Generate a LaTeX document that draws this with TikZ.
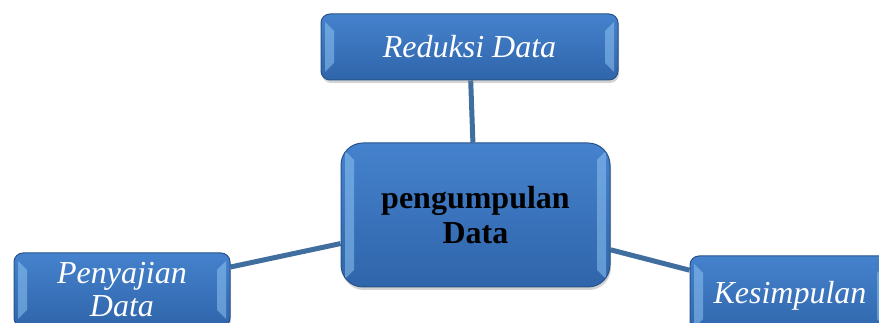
\documentclass[tikz,border=0pt]{standalone}
\usepackage{fontspec}
\setmainfont{Liberation Serif}
\usetikzlibrary{shadows,backgrounds}

\definecolor{boxtop}{HTML}{4582CD}
\definecolor{boxbot}{HTML}{2F65AA}
\definecolor{boxedge}{HTML}{27538A}
\definecolor{boxlight}{HTML}{8EC3F2}
\definecolor{linkblue}{HTML}{3F6E9F}

\begin{document}
\begin{tikzpicture}[x=1pt,y=1pt,
    box/.style={draw=boxedge, line width=1pt, rounded corners=9pt,
        top color=boxtop, bottom color=boxbot, text=white,
        font=\fontsize{32}{33}\selectfont\itshape, align=center,
        inner sep=0pt, drop shadow={opacity=.35,shadow xshift=1pt,
        shadow yshift=-3pt},
        path picture={
            \fill[boxlight,opacity=.55,sharp corners]
                ([xshift=4pt,yshift=-8pt]path picture bounding box.north west)
                -- ([xshift=13pt,yshift=-17pt]path picture bounding box.north west)
                -- ([xshift=13pt,yshift=17pt]path picture bounding box.south west)
                -- ([xshift=4pt,yshift=8pt]path picture bounding box.south west)
                -- cycle;
            \fill[boxlight,opacity=.55,sharp corners]
                ([xshift=-4pt,yshift=-8pt]path picture bounding box.north east)
                -- ([xshift=-13pt,yshift=-17pt]path picture bounding box.north east)
                -- ([xshift=-13pt,yshift=17pt]path picture bounding box.south east)
                -- ([xshift=-4pt,yshift=8pt]path picture bounding box.south east)
                -- cycle;
        }},
    mainbox/.style={box, rounded corners=22pt, text=black,
        font=\fontsize{32}{35}\selectfont\bfseries},
    link/.style={linkblue, line width=5pt}]

    \clip (0,0) rectangle (879,323);
    \useasboundingbox (0,0) rectangle (879,323);

    % nodes
    \node[mainbox, minimum width=269pt, minimum height=144pt]
        (main) at (475.5,108) {pengumpulan\\Data};
    \node[box, minimum width=297pt, minimum height=66pt]
        (reduksi) at (469.5,276) {Reduksi Data};
    \node[box, minimum width=216pt, minimum height=74pt]
        (penyajian) at (122,33) {Penyajian\\Data};
    \node[box, minimum width=200pt, minimum height=80pt]
        (kesimpulan) at (790,27) {Kesimpulan};

    % links
    \begin{scope}[on background layer]
        \draw[link] (reduksi) -- (main);
        \draw[link] (penyajian) -- (main);
        \draw[link] (main) -- (kesimpulan);
    \end{scope}
\end{tikzpicture}
\end{document}
